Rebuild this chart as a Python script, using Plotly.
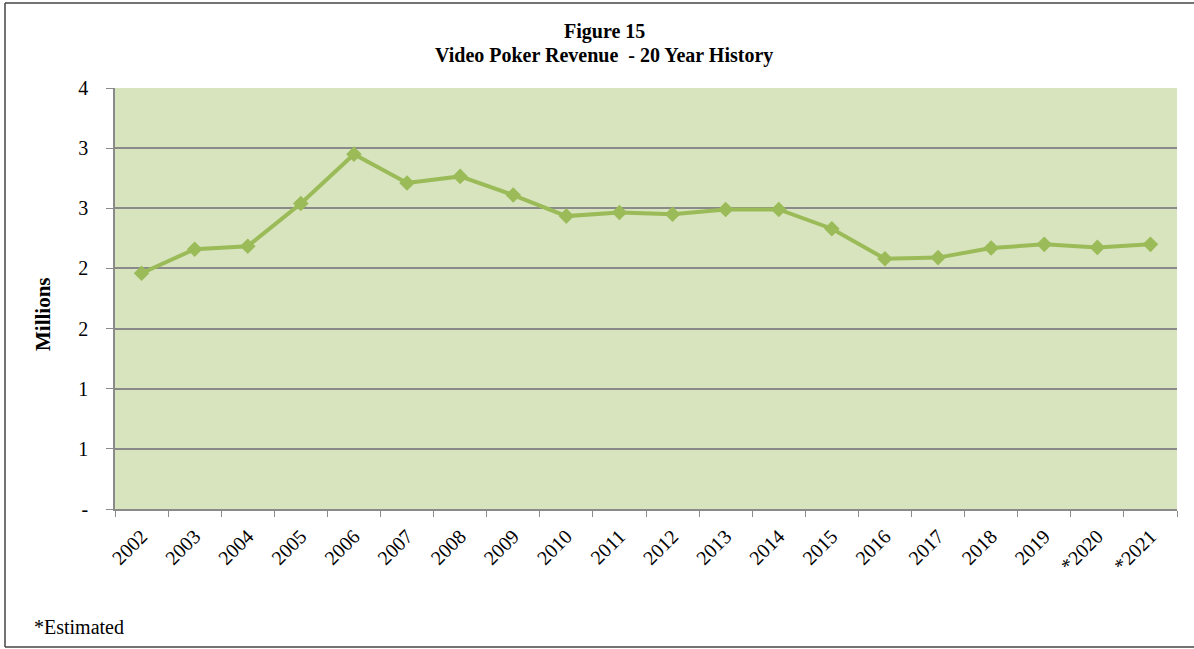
import plotly.graph_objects as go

years = ["2002", "2003", "2004", "2005", "2006", "2007", "2008", "2009", "2010", "2011",
         "2012", "2013", "2014", "2015", "2016", "2017", "2018", "2019", "*2020", "*2021"]
revenue_millions = [1.96, 2.16, 2.185, 2.54, 2.95, 2.71, 2.765, 2.61, 2.435, 2.465,
                    2.45, 2.49, 2.49, 2.33, 2.08, 2.09, 2.17, 2.20, 2.175, 2.20]
y_tick_vals = [0, 0.5, 1.0, 1.5, 2.0, 2.5, 3.0, 3.5]
y_tick_text = ["-", "1", "1", "2", "2", "3", "3", "4"]

FONT = "Liberation Serif, Times New Roman, serif"
GRID = "#8a8a8a"
BORDER = dict(color="#444444", width=1.5)


def px_x(p):
    return (p - 115) / 1062


def px_y(p):
    return (509 - p) / 421


fig = go.Figure()
fig.add_trace(go.Scatter(
    x=years, y=revenue_millions, mode="lines+markers",
    line=dict(color="#9BBB59", width=4),
    marker=dict(symbol="diamond", size=12, color="#9BBB59"),
    showlegend=False, hoverinfo="x+y",
))

fig.update_layout(
    width=1194, height=649,
    margin=dict(l=115, r=17, t=88, b=140),
    paper_bgcolor="white",
    plot_bgcolor="#D7E4BD",
    font=dict(family=FONT, size=20, color="black"),
    xaxis=dict(
        type="category", tickson="boundaries", ticks="outside", ticklen=6,
        tickcolor=GRID, showline=True, linecolor=GRID, linewidth=1.5,
        showgrid=False, tickangle=-45, tickfont=dict(family=FONT, size=20),
        range=[-0.5, 19.5], ticklabelstandoff=6,
    ),
    yaxis=dict(
        range=[0, 3.5], tickvals=y_tick_vals, ticktext=y_tick_text,
        ticks="outside", ticklen=7, tickcolor=GRID,
        showline=True, linecolor=GRID, linewidth=1.5,
        showgrid=True, gridcolor=GRID, gridwidth=1.5,
        zeroline=False, tickfont=dict(family=FONT, size=20),
        ticklabelstandoff=14,
    ),
    shapes=[
        dict(type="line", xref="paper", yref="paper", x0=px_x(5), x1=px_x(1200),
             y0=px_y(3), y1=px_y(3), line=BORDER, layer="below"),
        dict(type="line", xref="paper", yref="paper", x0=px_x(5), x1=px_x(1200),
             y0=px_y(647), y1=px_y(647), line=BORDER, layer="below"),
        dict(type="line", xref="paper", yref="paper", x0=px_x(5), x1=px_x(5),
             y0=px_y(3), y1=px_y(647), line=BORDER, layer="below"),
    ],
    annotations=[
        dict(text="<b>Figure 15</b>", xref="paper", yref="paper",
             x=px_x(604), y=px_y(31), showarrow=False,
             font=dict(family=FONT, size=20), xanchor="center", yanchor="middle"),
        dict(text="<b>Video Poker Revenue  - 20 Year History</b>", xref="paper", yref="paper",
             x=px_x(604), y=px_y(56), showarrow=False,
             font=dict(family=FONT, size=20), xanchor="center", yanchor="middle"),
        dict(text="<b>Millions</b>", xref="paper", yref="paper",
             x=px_x(43), y=px_y(314), showarrow=False, textangle=-90,
             font=dict(family=FONT, size=21), xanchor="center", yanchor="middle"),
        dict(text="*Estimated", xref="paper", yref="paper",
             x=px_x(32), y=px_y(627), showarrow=False,
             font=dict(family=FONT, size=20), xanchor="left", yanchor="middle"),
    ],
)

fig.write_html("out.html", config={"displayModeBar": False},
               post_script="document.body.style.margin='0';")
